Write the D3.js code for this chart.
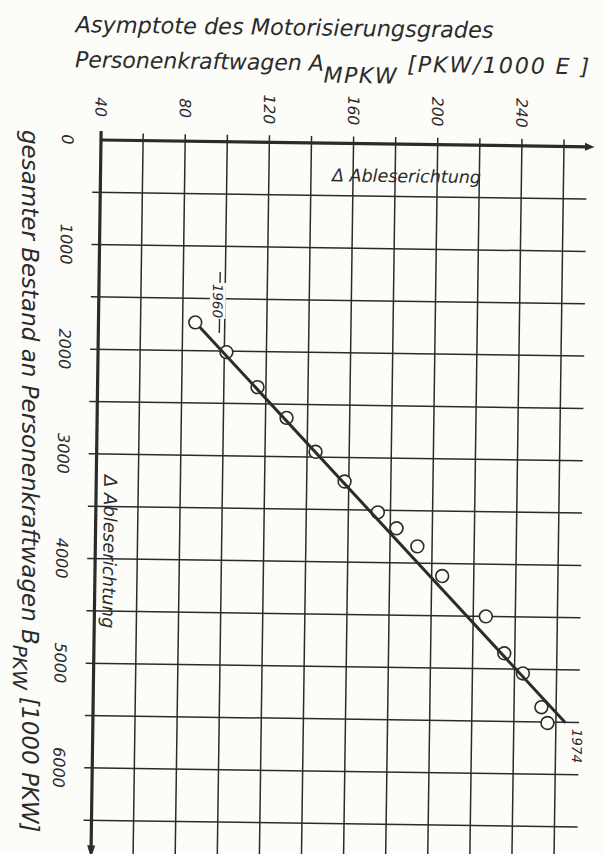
<!DOCTYPE html>
<html>
<head>
<meta charset="utf-8">
<script src="https://cdn.jsdelivr.net/npm/d3@7"></script>
<style>
  body { margin: 0; background: #fcfcf9; }
  svg { display: block; }
  text { font-family: "DejaVu Sans", sans-serif; font-style: italic; fill: #2b2b2b; }
</style>
</head>
<body>
<svg id="chart" width="603" height="854"></svg>
<script>
// observed years 1960 .. 1974
const years = [1960, 1961, 1962, 1963, 1964, 1965, 1966, 1967, 1968, 1969, 1970, 1971, 1972, 1973, 1974]
// Asymptote des Motorisierungsgrades A_MPKW [PKW/1000 E]
const asymptote = [86, 101, 116, 130, 144, 158, 174, 183, 193, 205, 226, 235, 244, 253, 256]
// gesamter Bestand B_PKW [1000 PKW]
const bestand = [1730, 2010, 2340, 2630, 2950, 3230, 3520, 3670, 3840, 4120, 4500, 4850, 5040, 5360, 5510]

// fitted line, 1960 -> 1974
const trendA = [88, 264.5]
const trendB = [1770, 5505]

const xTicks = d3.range(40, 261, 20)
const xLabels = [40, 80, 120, 160, 200, 240]
const yTicks = d3.range(0, 6501, 500)
const yLabels = [0, 1000, 2000, 3000, 4000, 5000, 6000]

const INK = '#2b2b2b'
const PAPER = '#fcfcf9'

const x = d3.scaleLinear().domain([40, 260]).range([101, 564])
const y = d3.scaleLinear().domain([0, 6000]).range([140, 768])

const svg = d3.select('#chart')

// the scanned sheet sits a little skewed
const root = svg.append('g')
  .attr('transform', `rotate(0.8, ${x(40)}, ${y(0)})`)

// grid
root.append('g')
  .selectAll('line')
  .data(xTicks.slice(1))
  .join('line')
    .attr('x1', d => x(d)).attr('x2', d => x(d))
    .attr('y1', y(0) - 7).attr('y2', y(7000))
    .attr('stroke', INK).attr('stroke-width', 1.5)

root.append('g')
  .selectAll('line')
  .data(yTicks.slice(1))
  .join('line')
    .attr('x1', x(40) - 8).attr('x2', x(271))
    .attr('y1', d => y(d)).attr('y2', d => y(d))
    .attr('stroke', INK).attr('stroke-width', 1.5)

// axes with arrows
root.append('line')
  .attr('x1', x(40)).attr('x2', x(272))
  .attr('y1', y(0)).attr('y2', y(0))
  .attr('stroke', INK).attr('stroke-width', 3.2)
root.append('path')
  .attr('d', `M${x(270)},${y(0) - 4}L${x(274.5)},${y(0)}L${x(270)},${y(0) + 4}Z`)
  .attr('fill', INK)

root.append('line')
  .attr('x1', x(40)).attr('x2', x(40))
  .attr('y1', y(0) - 9).attr('y2', y(6780))
  .attr('stroke', INK).attr('stroke-width', 3.2)
root.append('path')
  .attr('d', `M${x(40) - 4},${y(6740)}L${x(40)},${y(6860)}L${x(40) + 4},${y(6740)}Z`)
  .attr('fill', INK)

// tick labels, written top-to-bottom
root.append('g')
  .selectAll('text')
  .data(xLabels)
  .join('text')
    .attr('transform', d => `translate(${x(d) - 6}, ${y(0) - 33}) rotate(90)`)
    .attr('text-anchor', 'middle')
    .attr('font-size', 15.5)
    .text(d => d)

root.append('g')
  .selectAll('text')
  .data(yLabels)
  .join('text')
    .attr('transform', d => `translate(${x(40) - 39}, ${y(d)}) rotate(90)`)
    .attr('text-anchor', 'middle')
    .attr('font-size', 16)
    .text(d => d)

// title above the chart
root.append('text')
  .attr('x', 74).attr('y', 32.5)
  .attr('font-size', 22.4)
  .text('Asymptote des Motorisierungsgrades')

const t2 = root.append('text')
  .attr('x', 74).attr('y', 67.5)
  .attr('font-size', 22)
t2.append('tspan').text('Personenkraftwagen A')
t2.append('tspan').attr('dy', 12).attr('letter-spacing', 1.5).text('MPKW')
t2.append('tspan').attr('dy', -12).attr('letter-spacing', 2).text(' [PKW/1000 E ]')

// y title stands upright on the page
const t3 = svg.append('text')
  .attr('transform', 'translate(22, 130) rotate(90)')
  .attr('font-size', 23)
t3.append('tspan').text('gesamter Bestand an Personenkraftwagen B')
t3.append('tspan').attr('dy', 9).attr('font-size', 20).text('PKW')
t3.append('tspan').attr('dy', -9).text(' [1000 PKW]')

// reading-direction notes
root.append('text')
  .attr('x', x(150)).attr('y', y(0) + 38)
  .attr('font-size', 17.5)
  .text('\u0394 Ableserichtung')

root.append('text')
  .attr('transform', `translate(${x(40) + 8}, ${y(3200)}) rotate(90)`)
  .attr('font-size', 18)
  .text('\u0394 Ableserichtung')

// observations
root.append('g')
  .selectAll('circle')
  .data(years.map((yr, i) => ({ yr, a: asymptote[i], b: bestand[i] })))
  .join('circle')
    .attr('cx', d => x(d.a))
    .attr('cy', d => y(d.b))
    .attr('r', 6.4)
    .attr('fill', PAPER)
    .attr('stroke', INK)
    .attr('stroke-width', 1.6)

// trend line
root.append('line')
  .attr('x1', x(trendA[0])).attr('y1', y(trendB[0]))
  .attr('x2', x(trendA[1])).attr('y2', y(trendB[1]))
  .attr('stroke', INK).attr('stroke-width', 3)

// year marks at both ends
const x0 = x(trendA[0]), y0 = y(trendB[0])
root.append('line')
  .attr('x1', x0 + 20).attr('x2', x0 + 20)
  .attr('y1', y0 - 55).attr('y2', y0 + 6)
  .attr('stroke', INK).attr('stroke-width', 1.4)
root.append('rect')
  .attr('x', x0 + 10).attr('y', y0 - 44)
  .attr('width', 16).attr('height', 36)
  .attr('fill', PAPER)
root.append('text')
  .attr('transform', `translate(${x0 + 13}, ${y0 - 26}) rotate(90)`)
  .attr('text-anchor', 'middle')
  .attr('font-size', 13.5)
  .text(years[0])

const x1 = x(trendA[1]), y1 = y(trendB[1])
root.append('text')
  .attr('transform', `translate(${x1 + 7}, ${y1 + 23}) rotate(90)`)
  .attr('text-anchor', 'middle')
  .attr('font-size', 13.5)
  .text(years[years.length - 1])
</script>
</body>
</html>
